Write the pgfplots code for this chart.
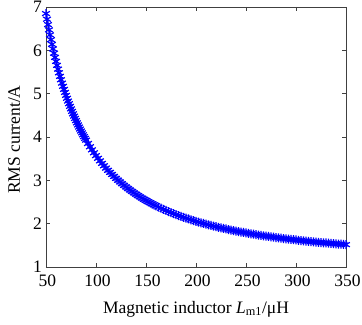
\documentclass[border=0pt]{standalone}
\usepackage{fontspec}
\setmainfont{Liberation Serif}
\usepackage{pgfplots}
\pgfplotsset{compat=1.18}
\begin{document}
\begin{tikzpicture}
\begin{axis}[
  name=ax,
  scale only axis,
  width=300pt, height=260pt,
  xmin=50, xmax=350, ymin=1, ymax=7,
  xtick={50,100,...,350}, ytick={1,2,...,7},
  tick align=inside,
  major tick length=4pt,
  axis line style={draw=black!75, line width=0.8pt},
  every tick/.style={black!75, line width=0.8pt},
  tick label style={font=\fontsize{17.5}{20}\selectfont, inner sep=0pt},
  label style={font=\fontsize{17.5}{20}\selectfont, inner sep=0pt},
  /pgf/number format/assume math mode=true,
  xticklabel style={anchor=base, yshift=-20pt, xshift=1.5pt},
  yticklabel style={anchor=east, xshift=-4pt},
  xlabel={Magnetic inductor \textit{L}\textsubscript{m1}/μH},
  ylabel={RMS current/A},
  xlabel style={at={(axis description cs:0.5,-0.177)}, anchor=base},
  ylabel style={at={(axis description cs:-0.087,0.49)}, anchor=base, rotate=0},
]
\addplot[blue, line width=1pt, mark=asterisk, mark size=4.5pt, mark options={line width=1.2pt}] coordinates {
(50,6.849)(51,6.718)(52,6.593)(53,6.473)(54,6.357)(55,6.245)(56,6.138)(57,6.034)(58,5.934)(59,5.837)
(60,5.744)(61,5.654)(62,5.566)(63,5.482)(64,5.400)(65,5.321)(66,5.244)(67,5.170)(68,5.098)(69,5.028)
(70,4.960)(71,4.894)(72,4.830)(73,4.768)(74,4.707)(75,4.648)(76,4.591)(77,4.535)(78,4.481)(79,4.428)
(80,4.377)(81,4.327)(82,4.278)(83,4.230)(84,4.184)(85,4.138)(86,4.094)(87,4.051)(88,4.009)(89,3.968)
(90,3.927)(92,3.850)(94,3.775)(96,3.704)(98,3.636)(100,3.571)(102,3.509)(104,3.449)(106,3.391)(108,3.336)
(110,3.283)(112,3.232)(114,3.183)(116,3.135)(118,3.090)(120,3.046)(122,3.003)(124,2.962)(126,2.922)(128,2.884)
(130,2.847)(132,2.811)(134,2.777)(136,2.743)(138,2.711)(140,2.679)(142,2.649)(144,2.619)(146,2.590)(148,2.563)
(150,2.536)(152,2.509)(154,2.484)(156,2.459)(158,2.435)(160,2.412)(162.5,2.383)
(165,2.356)(167.5,2.330)(170,2.304)(172.5,2.279)(175,2.255)(177.5,2.232)(180,2.210)(182.5,2.188)(185,2.167)(187.5,2.147)
(190,2.127)(192.5,2.108)(195,2.089)(197.5,2.071)(200,2.053)(202.5,2.036)(205,2.020)(207.5,2.004)(210,1.988)(212.5,1.973)
(215,1.958)(217.5,1.943)(220,1.929)(222.5,1.915)(225,1.902)(227.5,1.889)(230,1.877)(232.5,1.864)(235,1.852)(237.5,1.841)
(240,1.829)(242.5,1.818)(245,1.807)(247.5,1.797)(250,1.786)(252.5,1.777)(255,1.767)(257.5,1.757)(260,1.748)(262.5,1.738)
(265,1.729)(267.5,1.721)(270,1.712)(272.5,1.704)(275,1.696)(277.5,1.688)(280,1.680)(282.5,1.672)(285,1.665)(287.5,1.657)
(290,1.650)(292.5,1.643)(295,1.636)(297.5,1.630)(300,1.623)(302.5,1.617)(305,1.611)(307.5,1.604)(310,1.598)(312.5,1.592)
(315,1.587)(317.5,1.581)(320,1.575)(322.5,1.570)(325,1.565)(327.5,1.559)(330,1.554)(332.5,1.549)(335,1.544)(337.5,1.539)
(340,1.535)(342.5,1.530)(345,1.525)(347.5,1.521)(350,1.516)
};
\end{axis}
\pgfresetboundingbox
\path[use as bounding box] ([xshift=-46pt,yshift=-58pt]ax.south west) rectangle ([xshift=16pt,yshift=7pt]ax.north east);
\end{tikzpicture}
\end{document}
